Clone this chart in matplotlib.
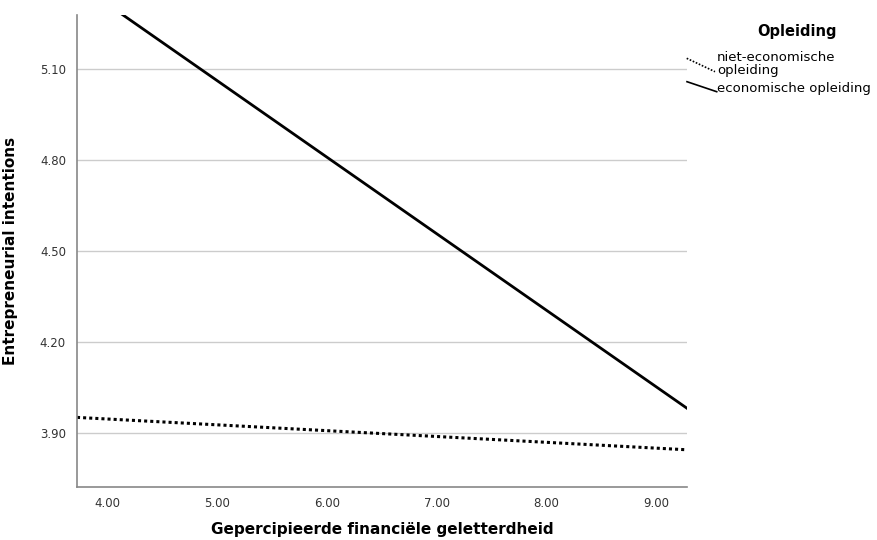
import matplotlib.pyplot as plt
from matplotlib.lines import Line2D

# fit lines per group (endpoints of the x range)
x_range = [3.72, 9.28]
niet_economisch = [3.950, 3.843]
economisch = [5.385, 3.980]

groepen = ["niet-economische\nopleiding", "economische opleiding"]
y_ticks = [3.90, 4.20, 4.50, 4.80, 5.10]
x_ticks = [4.00, 5.00, 6.00, 7.00, 8.00, 9.00]

plt.rcParams['font.family'] = ['DejaVu Sans']

fig = plt.figure(figsize=(8.77, 5.40), dpi=100)
ax = fig.add_axes([0.0878, 0.0981, 0.6956, 0.8741])

ax.plot(x_range, niet_economisch, color="black", lw=2.2, linestyle=(0, (1, 1)))
ax.plot(x_range, economisch, color="black", lw=2.0)

ax.set_xlim(3.72, 9.28)
ax.set_ylim(3.72, 5.279)
ax.set_xticks(x_ticks)
ax.set_xticklabels([f"{v:.2f}" for v in x_ticks])
ax.set_yticks(y_ticks)
ax.set_yticklabels([f"{v:.2f}" for v in y_ticks])
ax.tick_params(length=0, labelsize=8.5, colors="#333333", pad=8)
ax.tick_params(axis="x", pad=7)
ax.yaxis.grid(True, color="#cccccc", lw=1)
ax.set_axisbelow(True)
for s in ["top", "right"]:
    ax.spines[s].set_visible(False)
for s in ["left", "bottom"]:
    ax.spines[s].set_color("#888888")
    ax.spines[s].set_linewidth(1.2)

ax.set_xlabel("Gepercipieerde financiële geletterdheid", fontsize=11, fontweight="bold", labelpad=9)
ax.set_ylabel("Entrepreneurial intentions", fontsize=11, fontweight="bold", labelpad=16)

# legend in SPSS style: diagonal handles
fig.text(797 / 877, 1 - 31.7 / 540, "Opleiding", fontsize=10.5, fontweight="bold",
         ha="center", va="center")
fig.add_artist(Line2D([686.7 / 877, 715 / 877], [1 - 58.3 / 540, 1 - 71.7 / 540],
                      color="black", lw=1.2, linestyle=(0, (1, 1))))
fig.add_artist(Line2D([687 / 877, 716.7 / 877], [1 - 81.7 / 540, 1 - 91.7 / 540],
                      color="black", lw=1.2))
fig.text(717 / 877, 1 - 63.8 / 540, groepen[0], fontsize=9.5, ha="left", va="center",
         linespacing=1.0)
fig.text(717 / 877, 1 - 88.3 / 540, groepen[1], fontsize=9.5, ha="left", va="center")

fig.savefig("out.png", dpi=100)
